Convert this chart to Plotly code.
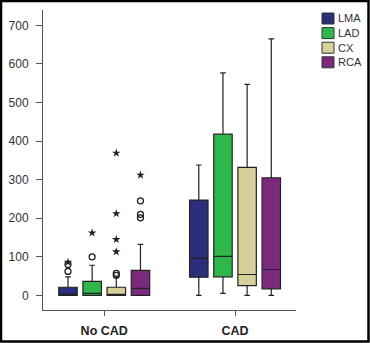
import plotly.graph_objects as go

vessels = ["LMA", "LAD", "CX", "RCA"]
groups = ["No CAD", "CAD"]
colors = ["#2b2e7b", "#2fb84a", "#d7d09a", "#7b2a7d"]

# [No CAD, CAD] per vessel
q1 = {"LMA": [0, 47], "LAD": [0, 48], "CX": [0, 25], "RCA": [0, 17]}
median = {"LMA": [0, 96], "LAD": [5, 101], "CX": [2, 54], "RCA": [18, 67]}
q3 = {"LMA": [21, 247], "LAD": [36, 418], "CX": [21, 332], "RCA": [65, 305]}
lower = {"LMA": [0, 0], "LAD": [0, 5], "CX": [0, 0], "RCA": [0, 0]}
upper = {"LMA": [48, 338], "LAD": [78, 577], "CX": [47, 547], "RCA": [132, 665]}

# No CAD outliers
circle_out = {"LMA": [62, 80], "LAD": [100], "CX": [52, 57], "RCA": [201, 210, 245]}
star_out = {"LMA": [86], "LAD": [162], "CX": [113, 145, 212, 369], "RCA": [312]}

spacing = 0.1847
bw = 0.141

W, H = 370, 343
L, R, T, B = 43, 74, 10, 33
pw, ph = W - L - R, H - T - B

fig = go.Figure()
for i, v in enumerate(vessels):
    off = (i - 1.5) * spacing
    xs = [g + off for g in range(len(groups))]
    fig.add_trace(go.Box(
        x=xs, q1=q1[v], median=median[v], q3=q3[v],
        lowerfence=lower[v], upperfence=upper[v],
        width=bw, whiskerwidth=0.3, name=v,
        fillcolor=colors[i], line=dict(color="#222222", width=1.2),
        showlegend=False, hoverinfo="skip", boxpoints=False,
    ))
    fig.add_trace(go.Scatter(
        x=[off] * len(circle_out[v]), y=circle_out[v], mode="markers",
        marker=dict(symbol="circle-open", size=6, color="#222222", line=dict(width=1.3)),
        showlegend=False, hoverinfo="skip"))
    fig.add_trace(go.Scatter(
        x=[off] * len(star_out[v]), y=star_out[v], mode="markers",
        marker=dict(symbol="star", size=6.5, color="#222222"),
        showlegend=False, hoverinfo="skip"))

# manual legend (pixel positions converted to paper coords)
def px(xp):
    return (xp - L) / pw

def py(yp):
    return 1 - (yp - T) / ph

for i, v in enumerate(vessels):
    top = 13 + i * 14.6
    fig.add_shape(type="rect", xref="paper", yref="paper",
                  x0=px(322), x1=px(334), y0=py(top + 11), y1=py(top),
                  fillcolor=colors[i], line=dict(color="#333333", width=1))
    fig.add_annotation(xref="paper", yref="paper", x=px(336), y=py(top + 5.5),
                       text=v, showarrow=False, xanchor="left", yanchor="middle",
                       font=dict(size=11, color="#333333"))

fig.update_layout(
    width=W, height=H,
    margin=dict(l=L, r=R, t=T, b=B, autoexpand=False),
    paper_bgcolor="white", plot_bgcolor="white",
    font=dict(family="Liberation Sans, Arial, sans-serif", size=12, color="#333333"),
    showlegend=False,
    xaxis=dict(
        range=[-0.468, 1.466], tickvals=[0, 1],
        ticktext=["<b>No CAD</b>", "<b>CAD</b>"],
        tickfont=dict(size=12.5, color="#222222"),
        showgrid=False, zeroline=False, showline=True, linecolor="#555555", linewidth=1,
        ticks="outside", ticklen=5, tickcolor="#555555", ticklabelstandoff=4,
        automargin=False,
    ),
    yaxis=dict(
        range=[-38, 740], tickvals=[0, 100, 200, 300, 400, 500, 600, 700],
        showgrid=False, zeroline=False, showline=True, linecolor="#555555", linewidth=1,
        ticks="outside", ticklen=6, tickcolor="#555555", ticklabelstandoff=5,
        tickfont=dict(size=12, color="#333333"), automargin=False,
    ),
)

# black frame around the whole image
fig.add_shape(type="rect", xref="paper", yref="paper",
              x0=px(1), x1=px(W - 1.5), y0=py(H - 1.5), y1=py(1),
              line=dict(color="black", width=2.5), layer="above")

fig.write_html("out.html")
